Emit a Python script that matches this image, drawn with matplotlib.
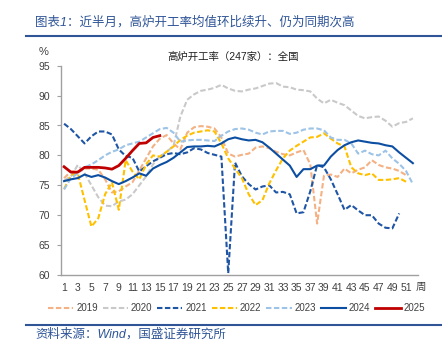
import matplotlib
matplotlib.use('Agg')
import matplotlib.pyplot as plt
from matplotlib.lines import Line2D

plt.rcParams['font.family'] = ['Liberation Sans', 'Noto Sans CJK SC', 'DejaVu Sans']

# weekly blast furnace utilisation (%)
y2019 = [76.2, 77.3, 77.3, 77.8, 77.8, 77.6, 76.0, 73.8, 74.0, 74.8,
         75.5, 77.5, 79.5, 81.5, 82.8, 83.4, 82.0, 81.0, 83.8, 84.7,
         84.9, 84.8, 84.5, 83.0, 80.3, 79.8, 80.1, 80.3, 81.3, 81.5,
         81.2, 80.6, 80.2, 80.0, 80.5, 80.9, 78.5, 68.6, 76.6, 76.8,
         76.4, 77.8, 77.0, 77.6, 78.0, 79.2, 78.4, 78.0, 77.8, 77.4,
         76.7]
y2020 = [75.8, 76.5, 78.4, 77.0, 75.0, 73.0, 71.6, 71.5, 72.3, 72.6,
         73.5, 75.0, 76.5, 78.5, 79.8, 80.6, 81.6, 86.5, 89.3, 90.2,
         90.8, 91.0, 91.3, 91.8, 91.2, 90.8, 90.7, 91.0, 91.2, 91.6,
         92.0, 92.1, 91.5, 91.4, 91.0, 90.9, 90.7, 89.5, 88.7, 89.3,
         88.8, 88.4, 87.5, 86.6, 86.2, 86.4, 86.5, 85.8, 84.8, 85.4,
         85.6, 86.2]
y2021 = [85.3, 84.4, 83.2, 82.0, 83.2, 84.0, 84.0, 83.5, 81.0, 79.9,
         79.6, 77.3, 78.2, 79.0, 79.6, 80.2, 80.4, 80.2, 80.5, 81.2,
         81.0, 80.4, 80.1, 79.8, 60.3, 78.8, 76.5, 75.2, 74.3, 74.8,
         75.0, 73.8, 73.9, 73.5, 70.3, 70.5, 74.0, 78.4, 78.0, 76.0,
         73.5, 70.9, 71.7, 70.8, 70.0, 70.0, 68.6, 67.9, 67.8, 70.3]
y2022 = [74.4, 76.7, 77.0, 72.5, 68.1, 69.5, 73.5, 75.5, 70.9, 79.2,
         77.3, 76.0, 78.5, 80.0, 79.8, 80.6, 81.5, 82.6, 83.3, 83.8,
         84.0, 84.2, 84.0, 82.0, 79.5, 77.8, 76.2, 73.5, 71.7, 72.5,
         75.3, 77.5, 79.5, 80.8, 81.6, 82.3, 83.0, 83.1, 83.7, 82.8,
         82.0, 81.5, 78.0, 77.0, 76.7, 77.0, 75.9, 75.9, 76.0, 76.2,
         75.6]
y2023 = [74.3, 76.2, 77.0, 78.0, 78.5, 79.2, 80.0, 80.6, 81.0, 81.7,
         82.0, 82.3, 83.0, 83.7, 84.4, 84.6, 83.8, 82.3, 82.5, 82.6,
         82.6, 82.5, 82.4, 83.3, 84.0, 84.4, 84.5, 84.3, 83.8, 83.5,
         84.0, 84.1, 84.1, 83.6, 83.8, 84.3, 84.5, 84.5, 84.2, 83.0,
         82.6, 82.6, 82.0, 80.3, 80.8, 80.2, 80.0, 80.8, 79.5, 78.6,
         77.4, 75.2]
y2024 = [75.7, 76.0, 76.2, 76.8, 76.4, 76.7, 76.3, 75.7, 75.2, 75.7,
         76.3, 77.0, 76.6, 77.8, 78.4, 78.9, 79.6, 80.5, 81.4, 81.5,
         81.5, 81.6, 81.5, 82.0, 82.7, 83.0, 82.7, 82.5, 82.6, 82.2,
         81.3, 80.3, 79.3, 78.3, 76.4, 77.7, 77.7, 78.3, 78.3, 79.8,
         80.9, 81.7, 82.2, 82.5, 82.3, 82.1, 82.0, 81.7, 81.5, 80.5,
         79.6, 78.7]
y2025 = [78.1, 77.2, 77.2, 78.0, 78.0, 78.0, 77.9, 77.7, 78.3, 79.5,
         80.8, 82.0, 82.1, 83.0, 83.3]

years = ['2019', '2020', '2021', '2022', '2023', '2024', '2025']
series = [y2019, y2020, y2021, y2022, y2023, y2024, y2025]
colors = ['#F4B183', '#C9C9C9', '#1F55A5', '#FFC000', '#9DC3E6', '#0B4EA2', '#C00000']
styles = ['--', '--', '--', '--', '--', '-', '-']
widths = [1.5, 1.5, 1.5, 1.5, 1.5, 1.5, 2.0]

blue = '#2F5597'

fig = plt.figure(figsize=(4.42, 3.44), dpi=100)
ax = fig.add_axes([61 / 442, 1 - 275 / 344, 357 / 442, 209.3 / 344])

for name, vals, c, ls, lw in zip(years, series, colors, styles, widths):
    weeks = list(range(1, len(vals) + 1))
    if ls == '--':
        ax.plot(weeks, vals, color=c, lw=lw, linestyle=ls, dashes=(2.6, 1.2), label=name)
    else:
        ax.plot(weeks, vals, color=c, lw=lw, linestyle=ls, label=name)

ax.set_xlim(0.55, 52.75)
ax.set_ylim(60, 95)
ax.set_xticks(range(1, 52, 2))
ax.set_yticks(range(60, 96, 5))
ax.tick_params(axis='x', length=0, pad=6, labelsize=7.5, colors='#404040')
ax.tick_params(axis='y', length=3, pad=5, labelsize=7.5, colors='#404040', color='#A0A0A0')
for s in ['top', 'right']:
    ax.spines[s].set_visible(False)
for s in ['left', 'bottom']:
    ax.spines[s].set_color('#A0A0A0')
    ax.spines[s].set_linewidth(1.0)

fig.text(421 / 442, 1 - 287 / 344, '周', fontsize=7.5, ha='center', va='center', color='#404040')
fig.text(44 / 442, 1 - 52 / 344, '%', fontsize=8, ha='center', va='center', color='#404040')
fig.text(0.527, 1 - 57 / 344, '高炉开工率（247家）：全国', fontsize=7.5, ha='center', va='center', color='#202020')

fig.text(35 / 442, 1 - 22 / 344, '图表1：近半月，高炉开工率均值环比续升、仍为同期次高',
         fontsize=9, ha='left', va='center', color=blue, style='italic')
fig.add_artist(Line2D([26 / 442, 1.0], [1 - 36 / 344, 1 - 36 / 344], color=blue, lw=1.5))
fig.add_artist(Line2D([26 / 442, 1.0], [1 - 325 / 344, 1 - 325 / 344], color=blue, lw=1.5))
fig.text(35 / 442, 1 - 334 / 344, '资料来源：Wind，国盛证券研究所',
         fontsize=9, ha='left', va='center', color=blue, style='italic')

legend_handles = []
for name, c, ls, lw in zip(years, colors, styles, widths):
    if ls == '--':
        legend_handles.append(Line2D([], [], color=c, lw=1.5, linestyle=ls, dashes=(2.6, 1.2)))
    else:
        legend_handles.append(Line2D([], [], color=c, lw=lw, linestyle=ls))
fig.legend(legend_handles, years, loc='center', bbox_to_anchor=(0.535, 1 - 308 / 344),
           ncol=7, frameon=False, fontsize=7, handlelength=2.6, handletextpad=0.3,
           columnspacing=0.5, labelcolor='#404040', borderpad=0.2)

fig.savefig('out.png', dpi=100)
plt.close()
